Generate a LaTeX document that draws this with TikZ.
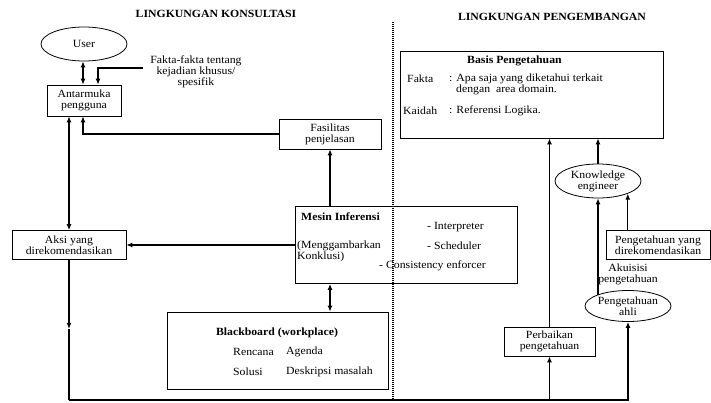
\documentclass[tikz,border=0pt]{standalone}
\usepackage{fontspec}
\setmainfont{Liberation Serif}[FakeStretch=1.07]
\usepackage{tikz}
\usetikzlibrary{arrows.meta,positioning,shapes.geometric}

\begin{document}
\begin{tikzpicture}[
x=1pt, y=-1pt,
every node/.style={font=\fontsize{11}{11}\selectfont},
box/.style={draw, line width=0.8pt, align=center, inner sep=1pt},
oval/.style={draw, ellipse, line width=0.8pt, align=center, inner sep=0pt},
txt/.style={inner sep=0pt, align=left},
head/.style={font=\fontsize{11}{11}\selectfont\bfseries, inner sep=0pt},
line/.style={line width=1.1pt},
arr/.style={-{Latex[length=6pt,width=5pt]}, line width=1.1pt},
darr/.style={{Latex[length=6pt,width=5pt]}-{Latex[length=6pt,width=5pt]}, line width=1.1pt},
dotline/.style={line width=1.4pt, dash pattern=on 1pt off 1pt}
]
\useasboundingbox (0,0) rectangle (711,402);

\node[head] (konsul) at (216,14) {LINGKUNGAN KONSULTASI};
\node[head] (kembang) at (552,17) {LINGKUNGAN PENGEMBANGAN};

\node[oval, minimum width=86pt, minimum height=34pt] (user) at (84,44) {User};
\node[box, minimum width=74pt, minimum height=31pt] (antar) at (84,100.5) {Antarmuka\\pengguna};
\node[txt, align=center] (fakta) at (196,72) {Fakta-fakta tentang\\kejadian khusus/\\spesifik};
\node[box, minimum width=102pt, minimum height=30pt] (fasil) at (330,134) {Fasilitas\\penjelasan};
\node[box, minimum width=114pt, minimum height=29pt] (aksi) at (69,245) {Aksi yang\\direkomendasikan};

\node[box, minimum width=222pt, minimum height=77pt] (mesin) at (406,245) {};
\node[head, anchor=west] (mesinT) at (301,217) {Mesin Inferensi};
\node[txt, anchor=west] (interp) at (427,227) {- Interpreter};
\node[txt, anchor=west] (konklusi) at (297,251) {(Menggambarkan\\Konklusi)};
\node[txt, anchor=west] (sched) at (427,246) {- Scheduler};
\node[txt, anchor=west] (consist) at (379,266) {- Consistency enforcer};

\node[box, minimum width=221pt, minimum height=77pt] (board) at (277.5,350.5) {};
\node[head] (boardT) at (277,333) {Blackboard (workplace)};
\node[txt, anchor=west] (rencana) at (233,352) {Rencana};
\node[txt, anchor=west] (agenda) at (286,352) {Agenda};
\node[txt, anchor=west] (solusi) at (233,372) {Solusi};
\node[txt, anchor=west] (deskripsi) at (286,372) {Deskripsi masalah};

\node[box, minimum width=263pt, minimum height=87pt] (basis) at (531.5,94.5) {};
\node[head, anchor=west] (basisT) at (467,61) {Basis Pengetahuan};
\node[txt, anchor=west] (fakt) at (407,79) {Fakta};
\node[txt, anchor=west] (faktD) at (449,79) {: Apa saja yang diketahui terkait};
\node[txt, anchor=west] (faktE) at (456,90) {dengan\ \ area domain.};
\node[txt, anchor=west] (kaidah) at (403,111) {Kaidah};
\node[txt, anchor=west] (kaidahD) at (449,111) {: Referensi Logika.};

\node[oval, minimum width=86pt, minimum height=34pt] (ke) at (598,181) {Knowledge\\engineer};
\node[box, minimum width=104pt, minimum height=29pt] (pyd) at (658,245) {Pengetahuan yang\\direkomendasikan};
\node[oval, minimum width=86pt, minimum height=31pt] (ahli) at (628,306) {Pengetahuan\\ahli};
\node[txt, align=center, above=5pt of ahli] (akuisisi) {Akuisisi\\pengetahuan};
\node[box, minimum width=91pt, minimum height=29pt] (perbaik) at (549.5,341.5) {Perbaikan\\pengetahuan};

\coordinate (base) at (0,400);
\coordinate (sepA) at (393,22);
\coordinate (sepB) at (393,402);
\coordinate (faktaL) at ([xshift=-7pt,yshift=4pt]fakta.west);
\coordinate (aksiMid) at ([yshift=-69pt]aksi.south);

\draw[darr] ([xshift=-1pt]user.south) -- ([xshift=-1pt]antar.north);
\draw[arr] (faktaL) -| ([xshift=14pt]antar.north);
\draw[arr] (fasil.west) -| ([xshift=-1pt]antar.south);
\draw[darr] (antar.south -| aksi.north) -- (aksi.north);
\draw[arr] (mesin.west) -- (aksi.east);
\draw[arr] (mesin.north -| fasil.south) -- (fasil.south);
\draw[darr] (mesin.south -| fasil.south) -- (board.north -| fasil.south);
\draw[line] (aksiMid) -- (aksi.south |- base);
\draw[arr] (aksi.south) -- (aksiMid);
\draw[arr] (aksi.south |- base) -| (ahli.south);
\draw[arr] (perbaik.south |- base) -- (perbaik.south);
\draw[arr] (perbaik.north) -- (perbaik.north |- basis.south);
\draw[arr] (ke.north) -- (ke.north |- basis.south);
\draw[arr] (ahli.159) -- (ahli.159 |- ke.south);
\draw[arr] (pyd.north -| ke.-23) -- (ke.-23);
\draw[dotline] (sepA) -- (sepB);
\end{tikzpicture}
\end{document}
